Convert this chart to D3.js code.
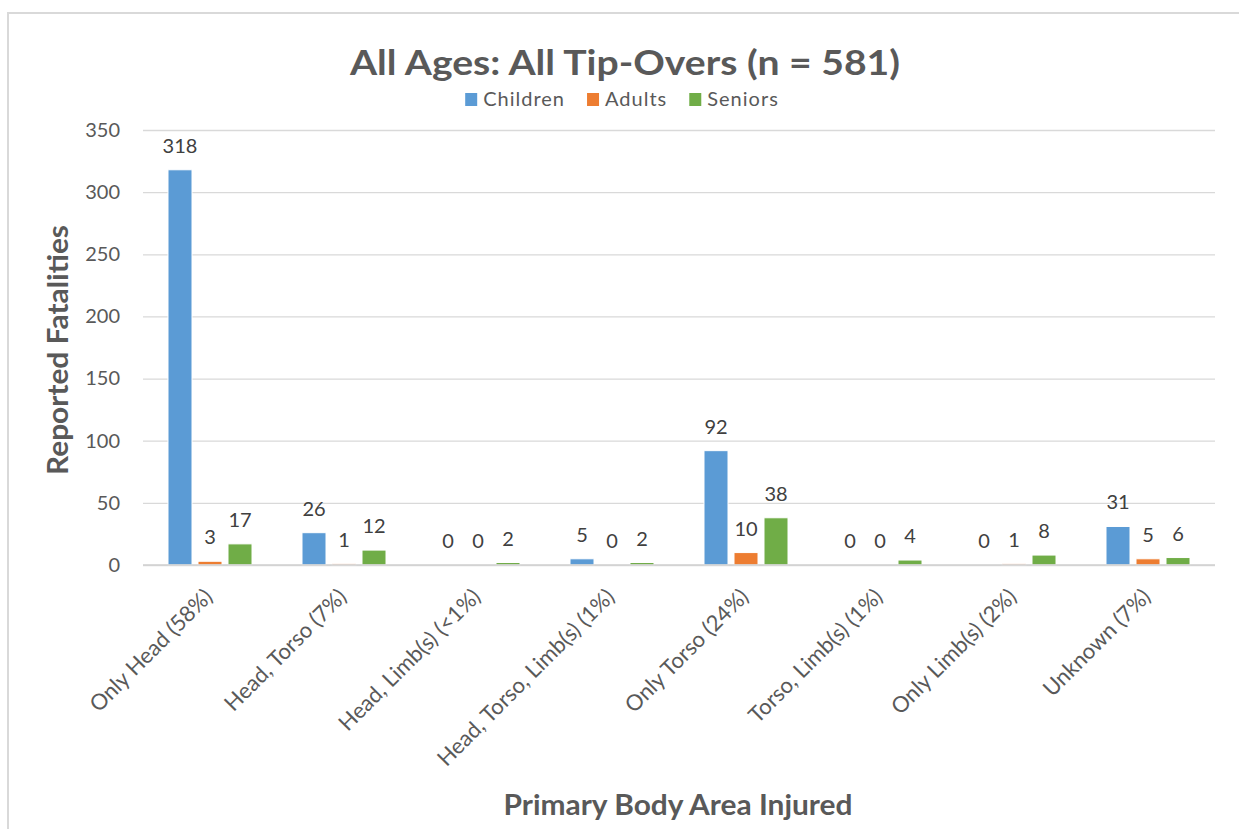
<!DOCTYPE html>
<html>

<head>
    <meta charset="UTF-8">
    <title>All Tip-Overs</title>
    <script src="https://cdnjs.cloudflare.com/ajax/libs/d3/7.8.5/d3.min.js"></script>
    <style>
        body { margin: 0; background: #fff; }
        text { font-family: Lato, "Open Sans", sans-serif; }
    </style>
</head>

<body>
    <svg id="chart"></svg>
    <script>

        var categories = ["Only Head (58%)", "Head, Torso (7%)", "Head, Limb(s) (<1%)",
            "Head, Torso, Limb(s) (1%)", "Only Torso (24%)", "Torso, Limb(s) (1%)",
            "Only Limb(s) (2%)", "Unknown (7%)"]
        var seriesNames = ["Children", "Adults", "Seniors"]
        var children = [318, 26, 0, 5, 92, 0, 0, 31]
        var adults = [3, 1, 0, 0, 10, 0, 1, 5]
        var seniors = [17, 12, 2, 2, 38, 4, 8, 6]
        var yTicks = [0, 50, 100, 150, 200, 250, 300, 350]
        var colors = ["#5B9BD5", "#ED7D31", "#70AD47"]

        var svgWidth = 1239,
            svgHeight = 829;
        var margin = { top: 130, right: 24, bottom: 264, left: 143 };
        var width = svgWidth - margin.left - margin.right;
        var height = svgHeight - margin.top - margin.bottom;

        var svg = d3.select('#chart')
            .attr("width", svgWidth)
            .attr("height", svgHeight);

        // outer frame (cut off at right and bottom in the original)
        svg.append("rect")
            .attr("x", 8).attr("y", 13)
            .attr("width", 1400).attr("height", 1000)
            .attr("fill", "none")
            .attr("stroke", "#d9d9d9")
            .attr("stroke-width", 2);

        var g = svg.append("g")
            .attr("transform", "translate(" + margin.left + "," + margin.top + ")");

        var rows = categories.map(function (c, i) {
            return { cat: c, values: [children[i], adults[i], seniors[i]] };
        });

        var x0 = d3.scaleBand()
            .domain(categories)
            .range([0, width])
            .paddingInner(50 / 134)
            .paddingOuter(25 / 134);

        var x1 = d3.scaleBand()
            .domain(seriesNames)
            .range([0, x0.bandwidth()])
            .paddingInner(0.2);

        var y = d3.scaleLinear().domain([0, 350]).range([height, 0]);

        // gridlines
        g.append("g")
            .attr("class", "grid")
            .call(d3.axisLeft(y).tickValues(yTicks).tickSize(-width).tickFormat(""))
            .call(function (s) {
                s.select(".domain").remove();
                s.selectAll("line").attr("stroke", "#d9d9d9").attr("stroke-width", 1.3);
            });

        // y tick labels
        g.append("g")
            .attr("class", "axis y")
            .call(d3.axisLeft(y).tickValues(yTicks).tickSize(0).tickPadding(23))
            .call(function (s) {
                s.select(".domain").remove();
                s.selectAll("text")
                    .attr("fill", "#595959")
                    .style("font-size", "20px");
            });

        // bars
        var groups = g.selectAll(".grp")
            .data(rows)
            .enter().append("g")
            .attr("class", "grp")
            .attr("transform", function (d) { return "translate(" + x0(d.cat) + ",0)"; });

        var cells = groups.selectAll(".cell")
            .data(function (d) {
                return d.values.map(function (v, i) { return { name: seriesNames[i], value: v, i: i }; });
            })
            .enter().append("g").attr("class", "cell");

        cells.append("rect")
            .attr("x", function (d) { return x1(d.name); })
            .attr("y", function (d) { return y(d.value); })
            .attr("width", x1.bandwidth())
            .attr("height", function (d) { return height - y(d.value); })
            .attr("fill", function (d) { return colors[d.i]; })
            .attr("stroke", "#fff")
            .attr("stroke-width", 1);

        cells.append("text")
            .attr("x", function (d) { return x1(d.name) + x1.bandwidth() / 2; })
            .attr("y", function (d) { return y(d.value) - 17; })
            .attr("text-anchor", "middle")
            .attr("fill", "#404040")
            .style("font-size", "20px")
            .text(function (d) { return d.value; });

        // x axis line
        g.append("line")
            .attr("x1", 0).attr("x2", width)
            .attr("y1", height).attr("y2", height)
            .attr("stroke", "#d0d0d0")
            .attr("stroke-width", 1.5);

        // x category labels
        g.append("g")
            .attr("class", "axis x")
            .selectAll("text")
            .data(categories)
            .enter().append("text")
            .attr("transform", function (d) {
                return "translate(" + (x0(d) + x0.bandwidth() / 2 + 4) + "," + (height + 33) + ") rotate(-45)";
            })
            .attr("text-anchor", "end")
            .attr("fill", "#595959")
            .style("font-size", "22px")
            .text(function (d) { return d; });

        // titles
        svg.append("text")
            .attr("x", 625).attr("y", 75)
            .attr("text-anchor", "middle")
            .attr("fill", "#595959")
            .attr("textLength", 550)
            .attr("lengthAdjust", "spacingAndGlyphs")
            .style("font-size", "35px")
            .style("font-weight", "bold")
            .text("All Ages: All Tip-Overs (n = 581)");

        svg.append("text")
            .attr("transform", "translate(68,350) rotate(-90)")
            .attr("text-anchor", "middle")
            .attr("fill", "#595959")
            .attr("textLength", 250)
            .attr("lengthAdjust", "spacingAndGlyphs")
            .style("font-size", "28px")
            .style("font-weight", "bold")
            .text("Reported Fatalities");

        svg.append("text")
            .attr("x", 678).attr("y", 815)
            .attr("text-anchor", "middle")
            .attr("fill", "#595959")
            .attr("textLength", 349)
            .attr("lengthAdjust", "spacingAndGlyphs")
            .style("font-size", "28px")
            .style("font-weight", "bold")
            .text("Primary Body Area Injured");

        // legend
        var legend = svg.append("g").attr("class", "legend");
        var lx = 0;
        seriesNames.forEach(function (name, i) {
            var item = legend.append("g").attr("transform", "translate(" + lx + ",0)");
            item.append("rect")
                .attr("x", 0).attr("y", -13)
                .attr("width", 12).attr("height", 13)
                .attr("fill", colors[i]);
            var t = item.append("text")
                .attr("x", 18).attr("y", 0)
                .attr("fill", "#595959")
                .style("font-size", "20px")
                .style("letter-spacing", "1px")
                .text(name);
            lx += 18 + t.node().getComputedTextLength() + 22;
        });
        var legendW = lx - 22;
        legend.attr("transform", "translate(" + (622 - legendW / 2) + ",106)");

    </script>
</body>

</html>
